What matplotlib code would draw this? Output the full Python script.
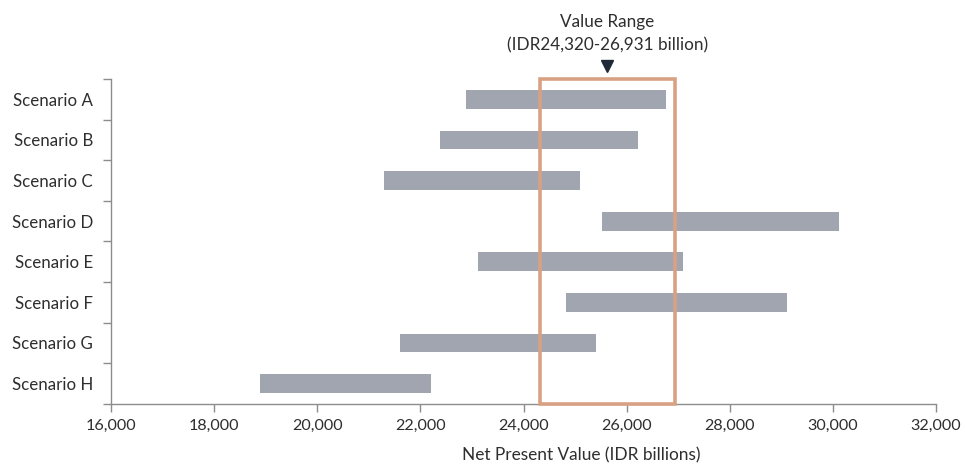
import numpy as np
import matplotlib.pyplot as plt
from matplotlib.patches import Rectangle

# NPV ranges per scenario (IDR billions)
scenarios = ["Scenario A", "Scenario B", "Scenario C", "Scenario D",
             "Scenario E", "Scenario F", "Scenario G", "Scenario H"]
npv_low = [22880, 22380, 21300, 25520, 23120, 24830, 21610, 18890]
npv_high = [26760, 26220, 25100, 30120, 27100, 29110, 25410, 22210]

# concluded value range
range_low = 24320
range_high = 26931

x_ticks = [16000, 18000, 20000, 22000, 24000, 26000, 28000, 30000, 32000]

plt.rcParams['font.family'] = ['Lato', 'DejaVu Sans']
text_color = '#2e2e2e'
axis_color = '#8c8c8c'
bar_color = '#a0a5b0'
box_color = '#d9a184'

fig = plt.figure(figsize=(9.65, 4.68), dpi=100)
ax = fig.add_axes([0.115, 0.137, 0.855, 0.694])

y = np.arange(len(scenarios))[::-1]
widths = np.array(npv_high) - np.array(npv_low)
ax.barh(y, widths, left=npv_low, height=0.46, color=bar_color, zorder=2)

ax.set_xlim(x_ticks[0], x_ticks[-1])
ax.set_ylim(-0.5, len(scenarios) - 0.5)

# value range box spanning the full height
box = Rectangle((range_low, -0.5), range_high - range_low, len(scenarios),
                fill=False, edgecolor=box_color, linewidth=2.6, zorder=3,
                clip_on=False)
ax.add_patch(box)

# marker and caption above the box
mid = (range_low + range_high) / 2
top = len(scenarios) - 0.5
ax.plot([mid], [top + 0.33], marker='v', markersize=9,
        color='#1f2a36', clip_on=False, zorder=4)
ax.text(mid, top + 0.62,
        f"Value Range\n(IDR{range_low:,}-{range_high:,} billion)",
        ha='center', va='bottom', fontsize=12.3, color=text_color,
        linespacing=1.6)

ax.set_xticks(x_ticks)
ax.set_xticklabels([f"{v:,}" for v in x_ticks])
ax.set_yticks(y)
ax.set_yticklabels(scenarios)
ax.set_yticks(np.arange(len(scenarios) + 1) - 0.5, minor=True)
ax.tick_params(axis='y', which='major', length=0, pad=13,
               labelsize=12.2, labelcolor=text_color)
ax.tick_params(axis='y', which='minor', length=6, color=axis_color, width=1)
ax.tick_params(axis='x', length=6, color=axis_color, width=1, pad=5,
               labelsize=11.6, labelcolor=text_color)

ax.set_xlabel("Net Present Value (IDR billions)", fontsize=12.4,
              color=text_color)
ax.xaxis.set_label_coords(0.57, -0.135)

for side in ['top', 'right']:
    ax.spines[side].set_visible(False)
for side in ['left', 'bottom']:
    ax.spines[side].set_color(axis_color)
    ax.spines[side].set_linewidth(1)

fig.savefig('out.png', dpi=100)
